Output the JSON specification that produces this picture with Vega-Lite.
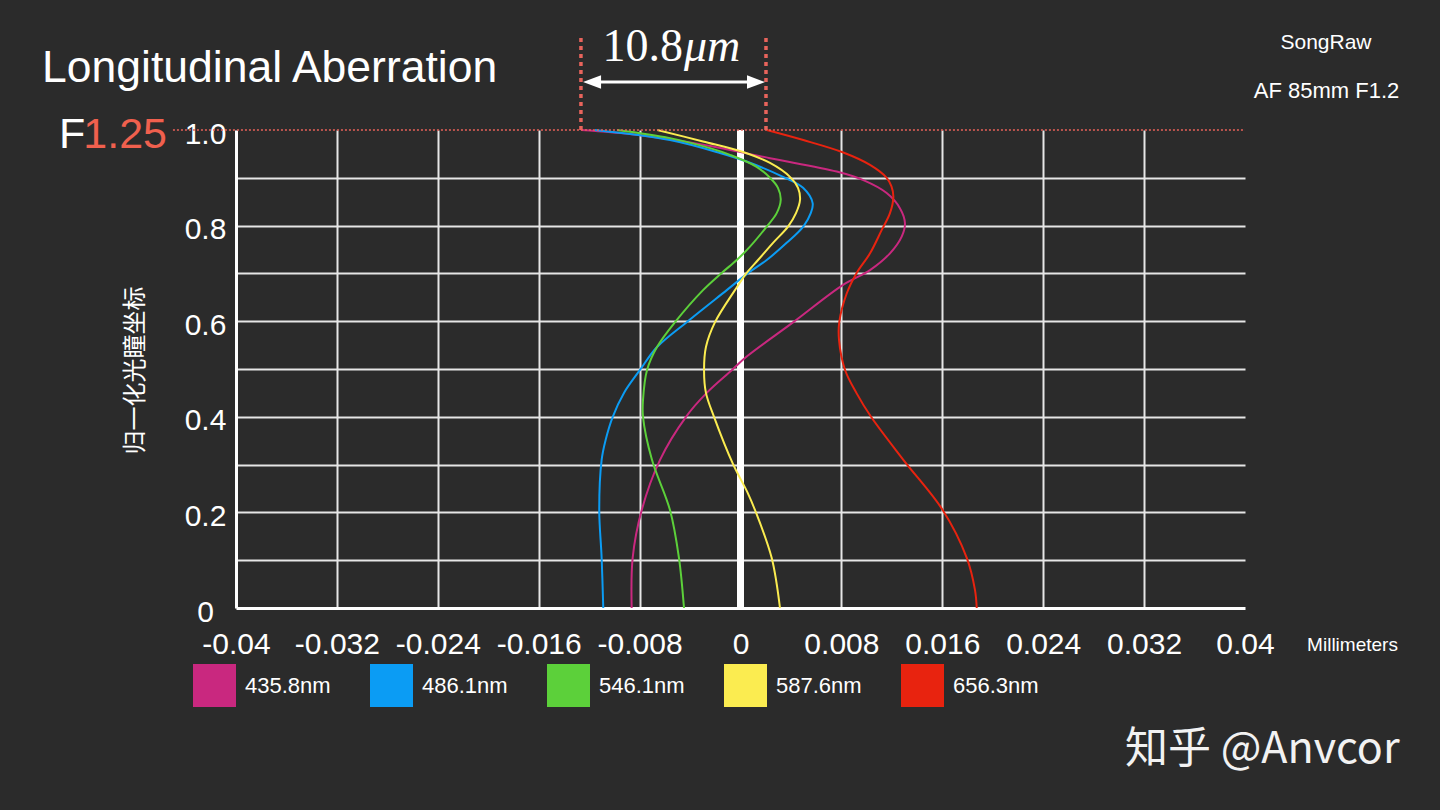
{
  "$schema": "https://vega.github.io/schema/vega-lite/v6.json",
  "width": 1009,
  "height": 478,
  "autosize": {"type": "none"},
  "padding": {"left": 236, "top": 130, "right": 195, "bottom": 202},
  "background": "#2b2b2b",
  "config": {
    "view": {"stroke": null},
    "text": {"font": "Liberation Sans", "color": "white"}
  },
  "datasets": {
    "curves": [
      {"wavelength": "435.8nm", "shift": -0.01265, "pupil": 1.0},
      {"wavelength": "435.8nm", "shift": -0.00823, "pupil": 0.99},
      {"wavelength": "435.8nm", "shift": -0.00295, "pupil": 0.969},
      {"wavelength": "435.8nm", "shift": 0.00234, "pupil": 0.941},
      {"wavelength": "435.8nm", "shift": 0.00763, "pupil": 0.913},
      {"wavelength": "435.8nm", "shift": 0.00974, "pupil": 0.895},
      {"wavelength": "435.8nm", "shift": 0.01159, "pupil": 0.868},
      {"wavelength": "435.8nm", "shift": 0.01265, "pupil": 0.836},
      {"wavelength": "435.8nm", "shift": 0.01304, "pupil": 0.805},
      {"wavelength": "435.8nm", "shift": 0.01278, "pupil": 0.777},
      {"wavelength": "435.8nm", "shift": 0.01185, "pupil": 0.742},
      {"wavelength": "435.8nm", "shift": 0.01027, "pupil": 0.707},
      {"wavelength": "435.8nm", "shift": 0.00813, "pupil": 0.676},
      {"wavelength": "435.8nm", "shift": 0.00419, "pupil": 0.598},
      {"wavelength": "435.8nm", "shift": 0.00049, "pupil": 0.526},
      {"wavelength": "435.8nm", "shift": -0.00067, "pupil": 0.498},
      {"wavelength": "435.8nm", "shift": -0.00268, "pupil": 0.45},
      {"wavelength": "435.8nm", "shift": -0.00432, "pupil": 0.4},
      {"wavelength": "435.8nm", "shift": -0.00638, "pupil": 0.31},
      {"wavelength": "435.8nm", "shift": -0.00783, "pupil": 0.205},
      {"wavelength": "435.8nm", "shift": -0.00855, "pupil": 0.105},
      {"wavelength": "435.8nm", "shift": -0.00863, "pupil": 0.0},
      {"wavelength": "486.1nm", "shift": -0.01154, "pupil": 1.0},
      {"wavelength": "486.1nm", "shift": -0.00559, "pupil": 0.979},
      {"wavelength": "486.1nm", "shift": -0.00163, "pupil": 0.952},
      {"wavelength": "486.1nm", "shift": 0.00049, "pupil": 0.934},
      {"wavelength": "486.1nm", "shift": 0.00337, "pupil": 0.902},
      {"wavelength": "486.1nm", "shift": 0.00496, "pupil": 0.879},
      {"wavelength": "486.1nm", "shift": 0.00572, "pupil": 0.847},
      {"wavelength": "486.1nm", "shift": 0.00557, "pupil": 0.826},
      {"wavelength": "486.1nm", "shift": 0.00498, "pupil": 0.798},
      {"wavelength": "486.1nm", "shift": 0.00366, "pupil": 0.764},
      {"wavelength": "486.1nm", "shift": 0.00208, "pupil": 0.728},
      {"wavelength": "486.1nm", "shift": 0.00062, "pupil": 0.701},
      {"wavelength": "486.1nm", "shift": -0.00109, "pupil": 0.665},
      {"wavelength": "486.1nm", "shift": -0.00427, "pupil": 0.598},
      {"wavelength": "486.1nm", "shift": -0.00662, "pupil": 0.546},
      {"wavelength": "486.1nm", "shift": -0.00797, "pupil": 0.498},
      {"wavelength": "486.1nm", "shift": -0.00924, "pupil": 0.45},
      {"wavelength": "486.1nm", "shift": -0.01013, "pupil": 0.4},
      {"wavelength": "486.1nm", "shift": -0.0107, "pupil": 0.351},
      {"wavelength": "486.1nm", "shift": -0.01101, "pupil": 0.31},
      {"wavelength": "486.1nm", "shift": -0.0112, "pupil": 0.205},
      {"wavelength": "486.1nm", "shift": -0.01101, "pupil": 0.105},
      {"wavelength": "486.1nm", "shift": -0.01088, "pupil": 0.0},
      {"wavelength": "546.1nm", "shift": -0.00979, "pupil": 1.0},
      {"wavelength": "546.1nm", "shift": -0.00559, "pupil": 0.983},
      {"wavelength": "546.1nm", "shift": -0.00242, "pupil": 0.962},
      {"wavelength": "546.1nm", "shift": -0.00083, "pupil": 0.948},
      {"wavelength": "546.1nm", "shift": 0.00128, "pupil": 0.923},
      {"wavelength": "546.1nm", "shift": 0.00234, "pupil": 0.9},
      {"wavelength": "546.1nm", "shift": 0.00297, "pupil": 0.879},
      {"wavelength": "546.1nm", "shift": 0.00319, "pupil": 0.854},
      {"wavelength": "546.1nm", "shift": 0.00287, "pupil": 0.826},
      {"wavelength": "546.1nm", "shift": 0.00208, "pupil": 0.798},
      {"wavelength": "546.1nm", "shift": 0.00075, "pupil": 0.756},
      {"wavelength": "546.1nm", "shift": -0.0003, "pupil": 0.728},
      {"wavelength": "546.1nm", "shift": -0.00149, "pupil": 0.701},
      {"wavelength": "546.1nm", "shift": -0.00297, "pupil": 0.665},
      {"wavelength": "546.1nm", "shift": -0.00519, "pupil": 0.598},
      {"wavelength": "546.1nm", "shift": -0.00662, "pupil": 0.546},
      {"wavelength": "546.1nm", "shift": -0.00741, "pupil": 0.498},
      {"wavelength": "546.1nm", "shift": -0.00773, "pupil": 0.435},
      {"wavelength": "546.1nm", "shift": -0.00773, "pupil": 0.4},
      {"wavelength": "546.1nm", "shift": -0.00702, "pupil": 0.31},
      {"wavelength": "546.1nm", "shift": -0.00559, "pupil": 0.205},
      {"wavelength": "546.1nm", "shift": -0.00488, "pupil": 0.105},
      {"wavelength": "546.1nm", "shift": -0.00448, "pupil": 0.0},
      {"wavelength": "587.6nm", "shift": -0.0066, "pupil": 1.0},
      {"wavelength": "587.6nm", "shift": -0.00297, "pupil": 0.976},
      {"wavelength": "587.6nm", "shift": 0.0002, "pupil": 0.954},
      {"wavelength": "587.6nm", "shift": 0.00234, "pupil": 0.931},
      {"wavelength": "587.6nm", "shift": 0.00392, "pupil": 0.902},
      {"wavelength": "587.6nm", "shift": 0.00456, "pupil": 0.879},
      {"wavelength": "587.6nm", "shift": 0.00472, "pupil": 0.854},
      {"wavelength": "587.6nm", "shift": 0.0044, "pupil": 0.826},
      {"wavelength": "587.6nm", "shift": 0.00377, "pupil": 0.798},
      {"wavelength": "587.6nm", "shift": 0.00258, "pupil": 0.764},
      {"wavelength": "587.6nm", "shift": 0.00139, "pupil": 0.728},
      {"wavelength": "587.6nm", "shift": 0.00049, "pupil": 0.701},
      {"wavelength": "587.6nm", "shift": -0.00044, "pupil": 0.665},
      {"wavelength": "587.6nm", "shift": -0.00202, "pupil": 0.598},
      {"wavelength": "587.6nm", "shift": -0.00274, "pupil": 0.546},
      {"wavelength": "587.6nm", "shift": -0.00289, "pupil": 0.498},
      {"wavelength": "587.6nm", "shift": -0.00274, "pupil": 0.45},
      {"wavelength": "587.6nm", "shift": -0.0021, "pupil": 0.4},
      {"wavelength": "587.6nm", "shift": -0.00059, "pupil": 0.301},
      {"wavelength": "587.6nm", "shift": 0.00057, "pupil": 0.241},
      {"wavelength": "587.6nm", "shift": 0.00115, "pupil": 0.205},
      {"wavelength": "587.6nm", "shift": 0.00247, "pupil": 0.105},
      {"wavelength": "587.6nm", "shift": 0.00313, "pupil": 0.0},
      {"wavelength": "656.3nm", "shift": 0.00208, "pupil": 1.0},
      {"wavelength": "656.3nm", "shift": 0.00498, "pupil": 0.979},
      {"wavelength": "656.3nm", "shift": 0.00815, "pupil": 0.953},
      {"wavelength": "656.3nm", "shift": 0.01027, "pupil": 0.927},
      {"wavelength": "656.3nm", "shift": 0.01159, "pupil": 0.9},
      {"wavelength": "656.3nm", "shift": 0.01197, "pupil": 0.882},
      {"wavelength": "656.3nm", "shift": 0.01212, "pupil": 0.86},
      {"wavelength": "656.3nm", "shift": 0.01185, "pupil": 0.826},
      {"wavelength": "656.3nm", "shift": 0.0112, "pupil": 0.791},
      {"wavelength": "656.3nm", "shift": 0.01027, "pupil": 0.742},
      {"wavelength": "656.3nm", "shift": 0.00921, "pupil": 0.701},
      {"wavelength": "656.3nm", "shift": 0.00842, "pupil": 0.658},
      {"wavelength": "656.3nm", "shift": 0.00783, "pupil": 0.598},
      {"wavelength": "656.3nm", "shift": 0.00781, "pupil": 0.561},
      {"wavelength": "656.3nm", "shift": 0.00829, "pupil": 0.498},
      {"wavelength": "656.3nm", "shift": 0.00921, "pupil": 0.449},
      {"wavelength": "656.3nm", "shift": 0.01035, "pupil": 0.4},
      {"wavelength": "656.3nm", "shift": 0.01291, "pupil": 0.31},
      {"wavelength": "656.3nm", "shift": 0.01603, "pupil": 0.205},
      {"wavelength": "656.3nm", "shift": 0.01794, "pupil": 0.105},
      {"wavelength": "656.3nm", "shift": 0.01859, "pupil": 0.038},
      {"wavelength": "656.3nm", "shift": 0.01873, "pupil": 0.0}
    ]
  },
  "layer": [
    {
      "data": {"values": [{}]},
      "mark": {"type": "rule", "color": "white", "strokeWidth": 7},
      "encoding": {
        "x": {"datum": 0, "type": "quantitative"},
        "y": {"datum": 0, "type": "quantitative"},
        "y2": {"datum": 1}
      }
    },
    {
      "data": {"name": "curves"},
      "mark": {"type": "line", "interpolate": "catmull-rom", "strokeWidth": 2},
      "encoding": {
        "x": {
          "field": "shift",
          "type": "quantitative",
          "scale": {"domain": [-0.04, 0.04], "nice": false, "zero": false},
          "axis": {
            "values": [-0.04, -0.032, -0.024, -0.016, -0.008, 0, 0.008, 0.016, 0.024, 0.032, 0.04],
            "labelExpr": "'' + datum.value",
            "labelFont": "Liberation Sans",
            "labelFontSize": 30,
            "labelColor": "white",
            "labelBaseline": "alphabetic",
            "labelPadding": 45,
            "labelOverlap": false,
            "labelFlush": false,
            "ticks": false,
            "tickSize": 0,
            "domainColor": "white",
            "domainWidth": 3,
            "grid": true,
            "gridColor": "#e6e6e6",
            "gridWidth": 2,
            "gridOpacity": {"condition": {"test": "abs(datum.value) > 0.039", "value": 0}, "value": 1},
            "title": "Millimeters",
            "titleFont": "Liberation Sans",
            "titleFontSize": 19,
            "titleFontWeight": "normal",
            "titleColor": "white",
            "titleX": 1116,
            "titleY": 42,
            "titleAlign": "center",
            "titleBaseline": "alphabetic"
          }
        },
        "y": {
          "field": "pupil",
          "type": "quantitative",
          "scale": {"domain": [0, 1], "nice": false},
          "axis": {
            "values": [0, 0.1, 0.2, 0.3, 0.4, 0.5, 0.6, 0.7, 0.8, 0.9, 1],
            "labelExpr": "datum.value == 1 ? '1.0' : (round(datum.value * 10) % 2 == 0 ? '' + datum.value : '')",
            "labelFont": "Liberation Sans",
            "labelFontSize": 30,
            "labelColor": "white",
            "labelAlign": "center",
            "labelBaseline": "alphabetic",
            "labelPadding": 31,
            "labelOffset": 13,
            "labelOverlap": false,
            "labelFlush": false,
            "ticks": false,
            "tickSize": 0,
            "domainColor": "white",
            "domainWidth": 3,
            "grid": true,
            "gridColor": "#e6e6e6",
            "gridWidth": 2,
            "gridOpacity": {"condition": {"test": "datum.value < 0.01 || datum.value > 0.99", "value": 0}, "value": 1},
            "title": "归一化光瞳坐标",
            "titleFont": "Noto Sans CJK SC",
            "titleFontSize": 24,
            "titleFontWeight": "normal",
            "titleColor": "white",
            "titleAngle": -90,
            "titleX": -101,
            "titleY": 240,
            "titleAlign": "center",
            "titleBaseline": "middle"
          }
        },
        "order": {"field": "pupil", "type": "quantitative"},
        "color": {
          "field": "wavelength",
          "type": "nominal",
          "scale": {
            "domain": ["435.8nm", "486.1nm", "546.1nm", "587.6nm", "656.3nm"],
            "range": ["#c9287f", "#0b9cf4", "#5cd03a", "#fbec50", "#e8230f"]
          },
          "legend": {
            "title": null,
            "orient": "none",
            "legendX": -43,
            "legendY": 534,
            "direction": "horizontal",
            "columns": 5,
            "columnPadding": -24,
            "padding": 0,
            "symbolType": "square",
            "symbolSize": 1,
            "symbolStrokeWidth": 42,
            "symbolOpacity": 1,
            "labelFont": "Liberation Sans",
            "labelFontSize": 22,
            "labelColor": "white",
            "labelOffset": 9
          }
        }
      }
    },
    {
      "data": {"values": [{}]},
      "mark": {"type": "rule", "color": "#e8625a", "strokeWidth": 1.6, "strokeDash": [2, 2]},
      "encoding": {
        "x": {"datum": -0.045, "type": "quantitative"},
        "x2": {"datum": 0.04},
        "y": {"datum": 1, "type": "quantitative"}
      }
    },
    {
      "data": {"values": [{}]},
      "mark": {"type": "rule", "color": "#e8645c", "strokeWidth": 3.5, "strokeDash": [4, 4]},
      "encoding": {
        "x": {"datum": -0.01265, "type": "quantitative"},
        "y": {"datum": 1, "type": "quantitative"},
        "y2": {"datum": 1.1987}
      }
    },
    {
      "data": {"values": [{}]},
      "mark": {"type": "rule", "color": "#e8645c", "strokeWidth": 3.5, "strokeDash": [4, 4]},
      "encoding": {
        "x": {"datum": 0.00202, "type": "quantitative"},
        "y": {"datum": 1, "type": "quantitative"},
        "y2": {"datum": 1.1987}
      }
    },
    {
      "data": {"values": [{}]},
      "mark": {"type": "rule", "color": "white", "strokeWidth": 3},
      "encoding": {
        "x": {"datum": -0.01177, "type": "quantitative"},
        "x2": {"datum": 0.00123},
        "y": {"datum": 1.1004, "type": "quantitative"}
      }
    },
    {
      "data": {"values": [{}]},
      "mark": {"type": "point", "shape": "M-1,0L1,-0.75L1,0.75Z", "filled": true, "size": 324, "color": "white", "opacity": 1},
      "encoding": {
        "x": {"datum": -0.01177, "type": "quantitative"},
        "y": {"datum": 1.1004, "type": "quantitative"}
      }
    },
    {
      "data": {"values": [{}]},
      "mark": {"type": "point", "shape": "M1,0L-1,-0.75L-1,0.75Z", "filled": true, "size": 324, "color": "white", "opacity": 1},
      "encoding": {
        "x": {"datum": 0.00123, "type": "quantitative"},
        "y": {"datum": 1.1004, "type": "quantitative"}
      }
    },
    {
      "data": {"values": [{}]},
      "mark": {"type": "text", "text": "10.8", "font": "Liberation Serif", "fontSize": 46, "align": "right", "baseline": "alphabetic"},
      "encoding": {
        "x": {"datum": -0.00456, "type": "quantitative"},
        "y": {"datum": 1.1444, "type": "quantitative"}
      }
    },
    {
      "data": {"values": [{}]},
      "mark": {"type": "text", "text": "μm", "font": "Liberation Serif", "fontStyle": "italic", "fontSize": 46, "align": "left", "baseline": "alphabetic"},
      "encoding": {
        "x": {"datum": -0.00448, "type": "quantitative"},
        "y": {"datum": 1.1444, "type": "quantitative"}
      }
    },
    {
      "data": {"values": [{}]},
      "mark": {"type": "text", "text": "Longitudinal Aberration", "fontSize": 44.5, "align": "left", "baseline": "alphabetic"},
      "encoding": {
        "x": {"datum": -0.05538, "type": "quantitative"},
        "y": {"datum": 1.1004, "type": "quantitative"}
      }
    },
    {
      "data": {"values": [{}]},
      "mark": {"type": "text", "text": "F", "fontSize": 43, "align": "left", "baseline": "alphabetic"},
      "encoding": {
        "x": {"datum": -0.05404, "type": "quantitative"},
        "y": {"datum": 0.9623, "type": "quantitative"}
      }
    },
    {
      "data": {"values": [{}]},
      "mark": {"type": "text", "text": "1.25", "fontSize": 43, "align": "right", "baseline": "alphabetic", "color": "#f0604e"},
      "encoding": {
        "x": {"datum": -0.04547, "type": "quantitative"},
        "y": {"datum": 0.9623, "type": "quantitative"}
      }
    },
    {
      "data": {"values": [{}]},
      "mark": {"type": "text", "text": "SongRaw", "fontSize": 21, "align": "center", "baseline": "alphabetic"},
      "encoding": {
        "x": {"datum": 0.04642, "type": "quantitative"},
        "y": {"datum": 1.1695, "type": "quantitative"}
      }
    },
    {
      "data": {"values": [{}]},
      "mark": {"type": "text", "text": "AF 85mm F1.2", "fontSize": 22, "align": "center", "baseline": "alphabetic"},
      "encoding": {
        "x": {"datum": 0.04646, "type": "quantitative"},
        "y": {"datum": 1.0669, "type": "quantitative"}
      }
    },
    {
      "data": {"values": [{}]},
      "mark": {"type": "text", "text": "知乎 @Anvcor", "font": "Noto Sans CJK SC", "fontSize": 43, "align": "left", "baseline": "alphabetic", "color": "#f2f2f2"},
      "encoding": {
        "x": {"datum": 0.03049, "type": "quantitative"},
        "y": {"datum": -0.3243, "type": "quantitative"}
      }
    }
  ]
}
